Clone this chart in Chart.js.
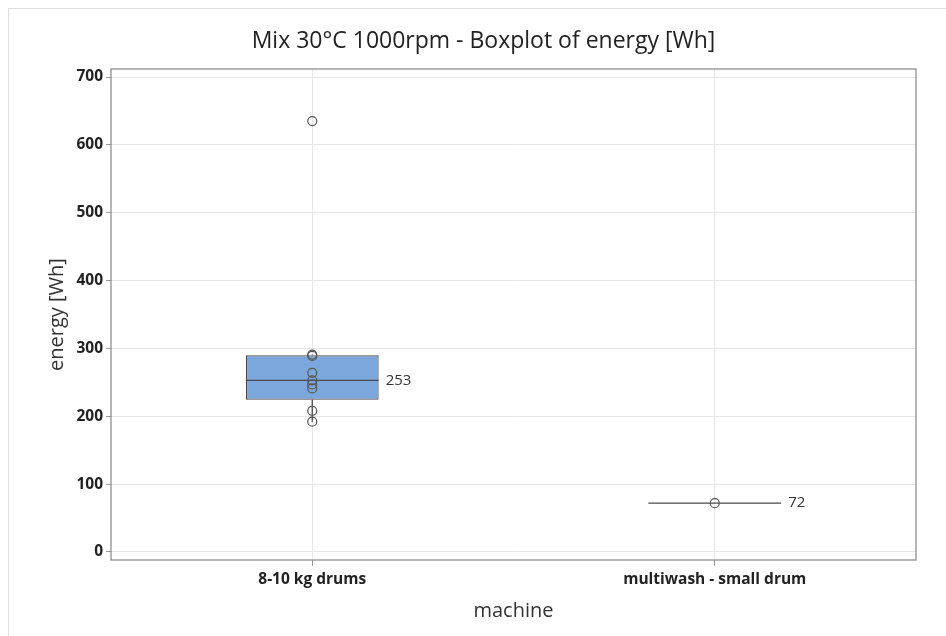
<!DOCTYPE html>
<html>
<head>
<meta charset="utf-8">
<script src="https://cdn.jsdelivr.net/npm/chart.js@4.4.1/dist/chart.umd.min.js"></script>
<style>
  html, body { margin: 0; padding: 0; background: #fff; }
  #wrap {
    position: absolute; left: 8px; top: 8px;
    width: 938px; height: 628px;
    border-left: 1px solid #dedede; border-top: 1px solid #dedede;
  }
  canvas { display: block; }
</style>
</head>
<body>
<div id="wrap"><canvas id="chart" width="937" height="627"></canvas></div>
<script>
const machines = ['8-10 kg drums', 'multiwash - small drum'];
const drumsEnergy = [635, 291, 289, 264, 253, 247, 241, 208, 192];
const multiwashEnergy = [72];
const yTicks = [0, 100, 200, 300, 400, 500, 600, 700];

const groups = [drumsEnergy, multiwashEnergy];

// minitab style quartiles
function quantile(sorted, p) {
    let pos = (sorted.length + 1) * p;
    if (pos < 1) pos = 1;
    if (pos > sorted.length) pos = sorted.length;
    const lo = Math.floor(pos);
    const frac = pos - lo;
    const a = sorted[lo - 1];
    const b = sorted[Math.min(lo, sorted.length - 1)];
    return a + (b - a) * frac;
}

const stats = groups.map((vals) => {
    const s = vals.slice().sort((a, b) => a - b);
    const q1 = quantile(s, 0.25);
    const q3 = quantile(s, 0.75);
    const med = quantile(s, 0.5);
    const iqr = q3 - q1;
    const inside = s.filter((v) => v >= q1 - 1.5 * iqr && v <= q3 + 1.5 * iqr);
    return { q1, q3, med, lo: inside[0], hi: inside[inside.length - 1] };
});

const points = [];
groups.forEach((vals, i) => vals.forEach((v) => points.push({ x: machines[i], y: v })));

const boxExtras = {
    id: 'boxExtras',
    afterDatasetDraw(chart, args) {
        if (args.index !== 0) return;
        const ctx = chart.ctx;
        const y = chart.scales.y;
        const bars = chart.getDatasetMeta(0).data;
        ctx.save();
        ctx.strokeStyle = '#4a4a4a';
        ctx.lineWidth = 1.3;
        stats.forEach((s, i) => {
            const bar = bars[i];
            const half = bar.width / 2;
            const cx = bar.x;
            ctx.beginPath();
            ctx.moveTo(cx - half, y.getPixelForValue(s.med));
            ctx.lineTo(cx + half, y.getPixelForValue(s.med));
            ctx.moveTo(cx, y.getPixelForValue(s.q1));
            ctx.lineTo(cx, y.getPixelForValue(s.lo));
            ctx.moveTo(cx, y.getPixelForValue(s.q3));
            ctx.lineTo(cx, y.getPixelForValue(s.hi));
            ctx.stroke();
            ctx.fillStyle = '#333';
            ctx.font = '15px "Open Sans", sans-serif';
            ctx.textBaseline = 'middle';
            ctx.textAlign = 'left';
            ctx.fillText(String(Math.round(s.med)), cx + half + 7, y.getPixelForValue(s.med));
        });
        ctx.restore();
    },
    afterDraw(chart) {
        const a = chart.chartArea;
        const ctx = chart.ctx;
        ctx.save();
        ctx.strokeStyle = '#858585';
        ctx.lineWidth = 1.2;
        ctx.strokeRect(a.left, a.top, a.right - a.left, a.bottom - a.top);
        ctx.restore();
    }
};

new Chart(document.getElementById('chart'), {
    data: {
        labels: machines,
        datasets: [
            {
                type: 'bar',
                data: stats.map((s) => [s.q1, s.q3]),
                backgroundColor: '#7ba7dc',
                borderColor: '#4a4a4a',
                borderWidth: 1.2,
                borderSkipped: false,
                barPercentage: 0.33,
                categoryPercentage: 1,
                order: 2
            },
            {
                type: 'line',
                data: points,
                showLine: false,
                pointRadius: 4.5,
                pointBorderWidth: 1.2,
                pointBorderColor: '#555',
                pointBackgroundColor: 'rgba(255,255,255,0)',
                order: 1
            }
        ]
    },
    options: {
        responsive: false,
        animation: false,
        layout: { padding: { left: 42, right: 30, top: 0, bottom: 10 } },
        plugins: {
            legend: { display: false },
            tooltip: { enabled: false },
            title: {
                display: true,
                text: 'Mix 30°C 1000rpm - Boxplot of energy [Wh]',
                color: '#222',
                font: { family: '"Open Sans", sans-serif', size: 23, weight: 'normal' },
                padding: { top: 19, bottom: 13.4 }
            }
        },
        scales: {
            x: {
                type: 'category',
                offset: true,
                grid: { offset: false, color: '#e6e6e6', tickColor: '#999', tickLength: 6 },
                border: { display: false },
                ticks: {
                    color: '#222',
                    padding: 4,
                    font: { family: '"Open Sans", sans-serif', size: 15.5, weight: 'bold' }
                },
                title: {
                    display: true,
                    text: 'machine',
                    color: '#333',
                    padding: { top: 6, bottom: 3 },
                    font: { family: '"Open Sans", sans-serif', size: 20 }
                },
                afterFit(scale) { scale.height = 66; }
            },
            y: {
                min: -11.8,
                max: 711.8,
                grid: { color: '#e6e6e6', tickColor: '#999', tickLength: 5 },
                border: { display: false },
                afterBuildTicks(scale) { scale.ticks = yTicks.map((v) => ({ value: v })); },
                ticks: {
                    color: '#222',
                    padding: 3,
                    font: { family: '"Open Sans", sans-serif', size: 15.5, weight: 'bold' }
                },
                title: {
                    display: true,
                    text: 'energy [Wh]',
                    color: '#333',
                    padding: { top: -6, bottom: 0 },
                    font: { family: '"Open Sans", sans-serif', size: 20 }
                },
                afterFit(scale) { scale.width = 60; }
            }
        }
    },
    plugins: [boxExtras]
});
</script>
</body>
</html>
